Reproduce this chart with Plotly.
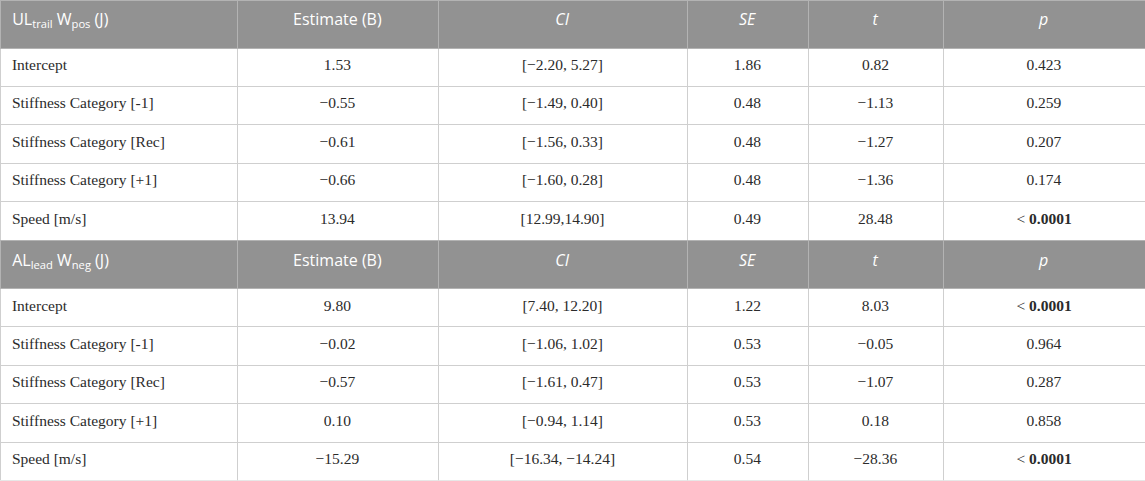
import plotly.graph_objects as go

# column headings (after the model name)
col_heads = ["Estimate (B)", "<i>CI</i>", "<i>SE</i>", "<i>t</i>", "<i>p</i>"]
terms = ["Intercept", "Stiffness Category [-1]", "Stiffness Category [Rec]",
         "Stiffness Category [+1]", "Speed [m/s]"]

# UL trail W pos model
ul_title = "UL<sub>trail</sub> W<sub>pos</sub> (J)"
ul_est = ["1.53", "−0.55", "−0.61", "−0.66", "13.94"]
ul_ci = ["[−2.20, 5.27]", "[−1.49, 0.40]", "[−1.56, 0.33]", "[−1.60, 0.28]", "[12.99,14.90]"]
ul_se = ["1.86", "0.48", "0.48", "0.48", "0.49"]
ul_t = ["0.82", "−1.13", "−1.27", "−1.36", "28.48"]
ul_p = ["0.423", "0.259", "0.207", "0.174", "&lt; <b>0.0001</b>"]

# AL lead W neg model
al_title = "AL<sub>lead</sub> W<sub>neg</sub> (J)"
al_est = ["9.80", "−0.02", "−0.57", "0.10", "−15.29"]
al_ci = ["[7.40, 12.20]", "[−1.06, 1.02]", "[−1.61, 0.47]", "[−0.94, 1.14]", "[−16.34, −14.24]"]
al_se = ["1.22", "0.53", "0.53", "0.53", "0.54"]
al_t = ["8.03", "−0.05", "−1.07", "0.18", "−28.36"]
al_p = ["&lt; <b>0.0001</b>", "0.964", "0.287", "0.858", "&lt; <b>0.0001</b>"]

col_widths = [237, 201, 249, 121, 135, 202]
aligns = ["left", "center", "center", "center", "center", "center"]
HEAD_BG = "#929292"
GRID = "#cfcfcf"


def span(vals, lead=""):
    # markup wrapper so every cell is laid out the same way
    return ["<span>" + lead + v + "</span>" for v in vals]


def make_table(title, est, ci, se, t, p, ydom):
    return go.Table(
        domain=dict(x=[0, 1], y=ydom),
        columnwidth=col_widths,
        header=dict(
            values=span([title], "&nbsp;") + span(col_heads),
            fill_color=HEAD_BG,
            line=dict(color="#b3b3b3", width=1),
            align=aligns,
            font=dict(family="Open Sans", size=16, color="white"),
            height=48,
        ),
        cells=dict(
            values=[span(terms, "&nbsp;"), span(est), span(ci),
                    span(se), span(t), span(p)],
            fill_color="white",
            line=dict(color=GRID, width=1),
            align=aligns,
            font=dict(family="Liberation Serif", size=15.5, color="#2b2b2b"),
            height=38.4,
        ),
    )


fig = go.Figure([
    make_table(ul_title, ul_est, ul_ci, ul_se, ul_t, ul_p, [0.5, 1]),
    make_table(al_title, al_est, al_ci, al_se, al_t, al_p, [0, 0.5]),
])

fig.update_layout(
    width=1145, height=481,
    margin=dict(l=0, r=0, t=0, b=0),
    paper_bgcolor="white",
)

fig.write_html("out.html", config={"displayModeBar": False},
               post_script="document.body.style.margin='0';")
